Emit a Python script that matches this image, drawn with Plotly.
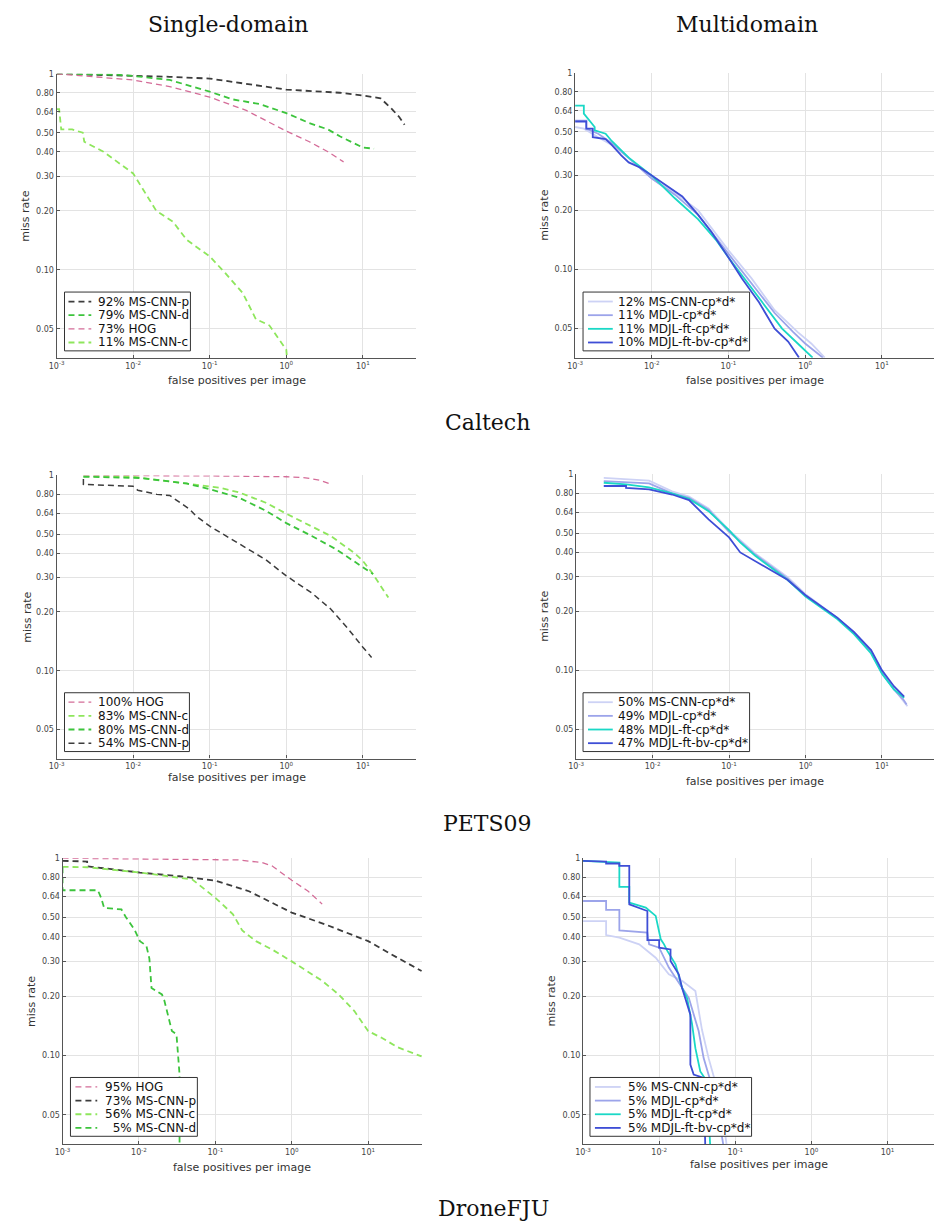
import math
import plotly.graph_objects as go

W, H = 934, 1225

# ---------------- data ----------------
# Caltech single-domain
cal_p_x = [0.001, 0.003, 0.01, 0.03, 0.1, 0.3, 1.0, 3.0, 5.0, 10.0, 17.0, 24.0, 30.0, 35.0]
cal_p_y = [1.0, 0.99, 0.98, 0.965, 0.945, 0.89, 0.83, 0.81, 0.80, 0.775, 0.75, 0.66, 0.60, 0.55]
cal_d_x = [0.001, 0.003, 0.006, 0.01, 0.03, 0.1, 0.2, 0.45, 1.0, 2.0, 3.5, 5.0, 10.0, 14.0]
cal_d_y = [1.0, 0.99, 0.99, 0.975, 0.93, 0.81, 0.74, 0.70, 0.63, 0.56, 0.52, 0.48, 0.42, 0.415]
cal_h_x = [0.001, 0.003, 0.01, 0.03, 0.1, 0.3, 1.0, 2.0, 3.5, 5.6]
cal_h_y = [1.0, 0.97, 0.93, 0.86, 0.76, 0.65, 0.51, 0.45, 0.40, 0.355]
cal_c_x = [0.001, 0.00108, 0.00115, 0.0016, 0.0022, 0.0023, 0.0041, 0.01, 0.02, 0.033, 0.05, 0.1, 0.16, 0.27, 0.4, 0.6, 1.0, 1.02]
cal_c_y = [0.66, 0.66, 0.52, 0.52, 0.50, 0.45, 0.40, 0.31, 0.20, 0.176, 0.142, 0.117, 0.096, 0.076, 0.056, 0.052, 0.039, 0.0356]

# Caltech multidomain
calm_a_x = [0.001, 0.0013, 0.002, 0.003, 0.005, 0.01, 0.02, 0.04, 0.1, 0.2, 0.4, 0.8, 1.2, 1.8]
calm_a_y = [0.53, 0.52, 0.47, 0.43, 0.37, 0.29, 0.245, 0.20, 0.125, 0.09, 0.062, 0.048, 0.042, 0.0356]
calm_b_x = [0.001, 0.0014, 0.0014, 0.002, 0.003, 0.005, 0.01, 0.02, 0.04, 0.1, 0.2, 0.4, 0.7, 1.0, 1.7]
calm_b_y = [0.57, 0.57, 0.52, 0.49, 0.44, 0.37, 0.29, 0.24, 0.19, 0.12, 0.085, 0.06, 0.048, 0.042, 0.0356]
calm_c_x = [0.001, 0.0013, 0.0013, 0.0018, 0.0018, 0.0025, 0.003, 0.005, 0.01, 0.02, 0.04, 0.07, 0.1, 0.2, 0.3, 0.5, 0.8, 1.25]
calm_c_y = [0.68, 0.68, 0.62, 0.53, 0.51, 0.49, 0.45, 0.37, 0.30, 0.23, 0.18, 0.14, 0.115, 0.08, 0.065, 0.05, 0.042, 0.0356]
calm_d_x = [0.001, 0.0014, 0.0014, 0.0017, 0.0017, 0.0025, 0.003, 0.004, 0.005, 0.007, 0.01, 0.015, 0.025, 0.04, 0.06, 0.1, 0.15, 0.25, 0.4, 0.6, 0.83]
calm_d_y = [0.565, 0.565, 0.52, 0.52, 0.47, 0.46, 0.43, 0.38, 0.35, 0.33, 0.30, 0.27, 0.235, 0.19, 0.155, 0.115, 0.09, 0.068, 0.05, 0.043, 0.0356]

# PETS09 single-domain
pet_h_x = [0.00224, 0.01, 0.1, 1.0, 1.78, 2.7, 3.6]
pet_h_y = [1.0, 1.0, 0.995, 0.985, 0.973, 0.947, 0.91]
pet_c_x = [0.00224, 0.01, 0.06, 0.134, 0.24, 0.54, 1.0, 2.15, 3.8, 7.8, 10.0, 13.0, 21.5]
pet_c_y = [0.99, 0.985, 0.90, 0.865, 0.82, 0.725, 0.637, 0.55, 0.49, 0.40, 0.365, 0.32, 0.237]
pet_d_x = [0.00224, 0.0124, 0.05, 0.1, 0.24, 0.54, 1.0, 2.15, 4.4, 10.0, 13.6]
pet_d_y = [0.985, 0.97, 0.91, 0.85, 0.77, 0.66, 0.57, 0.49, 0.42, 0.338, 0.313]
pet_p_x = [0.00224, 0.00224, 0.01, 0.0115, 0.0204, 0.03, 0.055, 0.066, 0.1, 0.24, 0.54, 1.0, 2.15, 3.8, 6.4, 10.0, 13.0]
pet_p_y = [0.96, 0.90, 0.88, 0.84, 0.80, 0.79, 0.67, 0.62, 0.55, 0.45, 0.37, 0.306, 0.25, 0.207, 0.164, 0.132, 0.117]

# PETS09 multidomain
petm_a_x = [0.0023, 0.009, 0.018, 0.03, 0.054, 0.1, 0.22, 0.58, 1.0, 2.6, 4.3, 7.2, 10.0, 14.3, 19.0, 21.5]
petm_a_y = [0.96, 0.93, 0.82, 0.77, 0.67, 0.52, 0.395, 0.30, 0.245, 0.186, 0.155, 0.124, 0.096, 0.080, 0.070, 0.0656]
petm_b_x = [0.0023, 0.009, 0.018, 0.03, 0.054, 0.1, 0.22, 0.58, 1.0, 2.6, 4.3, 7.2, 10.0, 14.3, 19.0, 21.0]
petm_b_y = [0.925, 0.90, 0.80, 0.76, 0.66, 0.51, 0.39, 0.295, 0.242, 0.185, 0.155, 0.124, 0.097, 0.080, 0.071, 0.067]
petm_c_x = [0.0023, 0.0045, 0.009, 0.018, 0.03, 0.054, 0.1, 0.14, 0.22, 0.58, 1.0, 2.6, 4.3, 7.2, 10.0, 14.3, 19.5]
petm_c_y = [0.907, 0.89, 0.86, 0.80, 0.75, 0.65, 0.52, 0.45, 0.385, 0.29, 0.238, 0.183, 0.153, 0.122, 0.096, 0.080, 0.0725]
petm_d_x = [0.0023, 0.0045, 0.0045, 0.009, 0.018, 0.03, 0.054, 0.1, 0.14, 0.22, 0.58, 1.0, 2.6, 4.3, 7.2, 10.0, 14.3, 19.5]
petm_d_y = [0.873, 0.873, 0.855, 0.84, 0.79, 0.74, 0.59, 0.477, 0.40, 0.36, 0.29, 0.242, 0.186, 0.157, 0.127, 0.100, 0.083, 0.0735]

# DroneFJU single-domain
dro_h_x = [0.001, 0.1, 0.2, 0.41, 0.55, 1.0, 1.64, 2.5]
dro_h_y = [1.0, 0.99, 0.98, 0.95, 0.915, 0.773, 0.68, 0.585]
dro_p_x = [0.001, 0.0021, 0.0021, 0.0103, 0.034, 0.1, 0.275, 0.55, 1.0, 2.7, 7.3, 10.0, 20.0, 50.0]
dro_p_y = [0.97, 0.962, 0.91, 0.846, 0.81, 0.77, 0.68, 0.596, 0.53, 0.463, 0.396, 0.38, 0.326, 0.268]
dro_c_x = [0.001, 0.0021, 0.0103, 0.034, 0.05, 0.1, 0.17, 0.225, 0.34, 0.55, 1.0, 2.5, 4.1, 6.6, 10.0, 15.0, 24.5, 50.0]
dro_c_y = [0.904, 0.90, 0.846, 0.80, 0.78, 0.63, 0.52, 0.43, 0.38, 0.345, 0.30, 0.239, 0.204, 0.168, 0.133, 0.123, 0.11, 0.099]
dro_d_x = [0.001, 0.001, 0.0029, 0.0032, 0.0035, 0.0059, 0.0068, 0.0087, 0.0103, 0.0125, 0.0137, 0.0146, 0.020, 0.0215, 0.027, 0.031, 0.034, 0.034, 0.034]
dro_d_y = [0.90, 0.688, 0.688, 0.63, 0.56, 0.55, 0.50, 0.436, 0.38, 0.36, 0.31, 0.22, 0.204, 0.19, 0.133, 0.128, 0.08, 0.05, 0.035]

# DroneFJU multidomain
drom_a_x = [0.001, 0.00201, 0.00201, 0.0030, 0.00547, 0.009, 0.0134, 0.02, 0.0299, 0.0365, 0.0446, 0.0543, 0.0664, 0.0771]
drom_a_y = [0.48, 0.48, 0.408, 0.396, 0.366, 0.313, 0.258, 0.239, 0.212, 0.135, 0.097, 0.074, 0.054, 0.035]
drom_b_x = [0.001, 0.00201, 0.00201, 0.0030, 0.0030, 0.00405, 0.0070, 0.00738, 0.01, 0.0134, 0.0164, 0.0245, 0.033, 0.0384, 0.0446, 0.0543, 0.0698]
drom_b_y = [0.607, 0.607, 0.547, 0.547, 0.431, 0.428, 0.42, 0.366, 0.352, 0.279, 0.248, 0.196, 0.133, 0.097, 0.08, 0.063, 0.035]
drom_c_x = [0.001, 0.0030, 0.0030, 0.00405, 0.00405, 0.00667, 0.009, 0.0105, 0.0116, 0.0128, 0.0164, 0.02, 0.0233, 0.027, 0.0299, 0.0347, 0.0424, 0.0468]
drom_c_y = [0.969, 0.95, 0.715, 0.715, 0.596, 0.562, 0.51, 0.388, 0.366, 0.339, 0.29, 0.22, 0.195, 0.145, 0.109, 0.083, 0.074, 0.035]
drom_d_x = [0.001, 0.00201, 0.00201, 0.0030, 0.0030, 0.00405, 0.00405, 0.0070, 0.0070, 0.01, 0.01, 0.0141, 0.0141, 0.0181, 0.02, 0.0221, 0.0257, 0.0257, 0.0284, 0.0384, 0.0403]
drom_d_y = [0.969, 0.962, 0.94, 0.94, 0.914, 0.914, 0.584, 0.54, 0.384, 0.384, 0.352, 0.345, 0.301, 0.258, 0.22, 0.196, 0.161, 0.09, 0.08, 0.077, 0.035]

# legend labels
cal_single_names = ["92% MS-CNN-p", "79% MS-CNN-d", "73% HOG", "11% MS-CNN-c"]
cal_multi_names = ["12% MS-CNN-cp*d*", "11% MDJL-cp*d*", "11% MDJL-ft-cp*d*", "10% MDJL-ft-bv-cp*d*"]
pet_single_names = ["100% HOG", "83% MS-CNN-c", "80% MS-CNN-d", "54% MS-CNN-p"]
pet_multi_names = ["50% MS-CNN-cp*d*", "49% MDJL-cp*d*", "48% MDJL-ft-cp*d*", "47% MDJL-ft-bv-cp*d*"]
dro_single_names = ["95% HOG", "73% MS-CNN-p", "56% MS-CNN-c", "\u20075% MS-CNN-d"]
dro_multi_names = ["5% MS-CNN-cp*d*", "5% MDJL-cp*d*", "5% MDJL-ft-cp*d*", "5% MDJL-ft-bv-cp*d*"]

y_tick_vals = [0.05, 0.10, 0.20, 0.30, 0.40, 0.50, 0.64, 0.80, 1.0]
y_tick_text = ["0.05", "0.10", "0.20", "0.30", "0.40", "0.50", "0.64", "0.80", "1"]
x_tick_vals = [0.001, 0.01, 0.1, 1, 10]
x_tick_text = ["10<sup>-3</sup>", "10<sup>-2</sup>", "10<sup>-1</sup>", "10<sup>0</sup>", "10<sup>1</sup>"]

x_title = "false positives per image"
y_title = "miss rate"
col_titles = ["Single-domain", "Multidomain"]
row_titles = ["Caltech", "PETS09", "DroneFJU"]

# ---------------- styles ----------------
C_P = "#3c3c3c"
C_D = "#3cc43c"
C_H = "#d46c98"
C_C = "#8ee65c"
C_A = "#cdd2f5"
C_B = "#9ca4ea"
C_CY = "#1ad8c6"
C_BL = "#3e4ed6"
DASH = "6px,4px"

# panel geometry in pixels: (left, right, top, bottom, x_range_end)
panels = [
    (49, 412, 70, 355, 1.70),
    (572, 934, 69, 355, 1.68),
    (49, 412, 473, 757, 1.70),
    (573, 934, 472, 757, 1.68),
    (55, 418, 857, 1144, 1.71),
    (580, 934, 857, 1144, 1.61),
]
# legend box: (left, top, width, sample_x0, sample_x1, text_x)
legend_geo = [
    (57, 289, 127, 61, 84, 89),
    (580, 289, 168, 585, 610, 613),
    (57, 691, 126, 61, 84, 89),
    (580, 691, 168, 585, 610, 613),
    (63, 1077, 128, 68, 90, 96),
    (587, 1077, 163, 592, 618, 623),
]
xtitle_off = [23, 23, 19, 23, 23, 20]
ytitle_x = [18, 541, 20, 541, 23, 548]

fig = go.Figure()
legend_entries = {i: [] for i in range(6)}

def add(panel, xs, ys, name, color, width, dashed):
    k = panel + 1
    dash = DASH if dashed else "solid"
    fig.add_trace(go.Scatter(
        x=xs, y=ys, mode="lines", name=name,
        line=dict(color=color, width=width, dash=dash),
        xaxis="x" if k == 1 else f"x{k}", yaxis="y" if k == 1 else f"y{k}",
        showlegend=False, hoverinfo="name",
    ))
    legend_entries[panel].append((name, color, width, dash))

# Caltech
add(0, cal_p_x, cal_p_y, cal_single_names[0], C_P, 1.8, True)
add(0, cal_d_x, cal_d_y, cal_single_names[1], C_D, 1.8, True)
add(0, cal_h_x, cal_h_y, cal_single_names[2], C_H, 1.3, True)
add(0, cal_c_x, cal_c_y, cal_single_names[3], C_C, 1.8, True)
add(1, calm_a_x, calm_a_y, cal_multi_names[0], C_A, 1.8, False)
add(1, calm_b_x, calm_b_y, cal_multi_names[1], C_B, 1.8, False)
add(1, calm_c_x, calm_c_y, cal_multi_names[2], C_CY, 1.8, False)
add(1, calm_d_x, calm_d_y, cal_multi_names[3], C_BL, 1.8, False)
# PETS09
add(2, pet_h_x, pet_h_y, pet_single_names[0], C_H, 1.3, True)
add(2, pet_c_x, pet_c_y, pet_single_names[1], C_C, 1.8, True)
add(2, pet_d_x, pet_d_y, pet_single_names[2], C_D, 1.8, True)
add(2, pet_p_x, pet_p_y, pet_single_names[3], C_P, 1.5, True)
add(3, petm_a_x, petm_a_y, pet_multi_names[0], C_A, 1.8, False)
add(3, petm_b_x, petm_b_y, pet_multi_names[1], C_B, 1.8, False)
add(3, petm_c_x, petm_c_y, pet_multi_names[2], C_CY, 1.8, False)
add(3, petm_d_x, petm_d_y, pet_multi_names[3], C_BL, 1.8, False)
# DroneFJU
add(4, dro_h_x, dro_h_y, dro_single_names[0], C_H, 1.3, True)
add(4, dro_p_x, dro_p_y, dro_single_names[1], C_P, 1.8, True)
add(4, dro_c_x, dro_c_y, dro_single_names[2], C_C, 1.8, True)
add(4, dro_d_x, dro_d_y, dro_single_names[3], C_D, 1.8, True)
add(5, drom_a_x, drom_a_y, dro_multi_names[0], C_A, 1.8, False)
add(5, drom_b_x, drom_b_y, dro_multi_names[1], C_B, 1.8, False)
add(5, drom_c_x, drom_c_y, dro_multi_names[2], C_CY, 1.8, False)
add(5, drom_d_x, drom_d_y, dro_multi_names[3], C_BL, 1.8, False)

def px(x):
    return x / W

def py(y):
    return 1 - y / H

layout = dict(
    width=W, height=H, margin=dict(l=0, r=0, t=0, b=0),
    paper_bgcolor="white", plot_bgcolor="white",
    font=dict(family="DejaVu Sans", color="#333333"),
    showlegend=False,
)
tickfont = dict(family="DejaVu Sans", size=8, color="#444444")
labelfont = dict(family="DejaVu Sans", size=11, color="#333333")
legfont = dict(family="DejaVu Sans", size=12, color="#111111")
shapes = []
ann = []
for i, (l, r, t, b, xe) in enumerate(panels):
    k = i + 1
    xs = "" if k == 1 else str(k)
    layout[f"xaxis{xs}"] = dict(
        type="log", range=[-3, xe], domain=[px(l), px(r)], anchor=f"y{xs}",
        tickvals=x_tick_vals, ticktext=x_tick_text, tickfont=tickfont,
        showgrid=True, gridcolor="#e3e3e3", gridwidth=1,
        showline=True, linecolor="#555555", linewidth=1.2, mirror=False,
        ticks="inside", ticklen=3, tickcolor="#555555", zeroline=False,
    )
    layout[f"yaxis{xs}"] = dict(
        type="log", range=[math.log10(0.0355), 0], domain=[py(b), py(t)], anchor=f"x{xs}",
        tickvals=y_tick_vals, ticktext=y_tick_text, tickfont=tickfont,
        showgrid=True, gridcolor="#e3e3e3", gridwidth=1,
        showline=True, linecolor="#555555", linewidth=1.2, mirror=False,
        ticks="inside", ticklen=3, tickcolor="#555555", zeroline=False,
    )
    # axis titles
    ann.append(dict(text=x_title, x=px((l + r) / 2), y=py(b + xtitle_off[i]), xref="paper", yref="paper",
                    showarrow=False, font=labelfont, xanchor="center", yanchor="middle"))
    ann.append(dict(text=y_title, x=px(ytitle_x[i]), y=py((t + b) / 2), xref="paper", yref="paper",
                    showarrow=False, font=labelfont, xanchor="center", yanchor="middle", textangle=-90))
    # legend
    lx, ly, lw, sx0, sx1, tx = legend_geo[i]
    lh = 59
    shapes.append(dict(type="rect", xref="paper", yref="paper", x0=px(lx), x1=px(lx + lw),
                       y0=py(ly + lh), y1=py(ly), fillcolor="white",
                       line=dict(color="#333333", width=1), layer="above"))
    for j, (name, color, width, dash) in enumerate(legend_entries[i]):
        yc = ly + 9.5 + 13.7 * j
        shapes.append(dict(type="line", xref="paper", yref="paper", x0=px(sx0), x1=px(sx1),
                           y0=py(yc), y1=py(yc), line=dict(color=color, width=width, dash=dash), layer="above"))
        ann.append(dict(text=name, x=px(tx), y=py(yc), xref="paper", yref="paper", showarrow=False,
                        font=legfont, xanchor="left", yanchor="middle"))

serif = dict(family="DejaVu Serif", size=22, color="#111111")
ann.append(dict(text=col_titles[0], x=px(222), y=py(21), xref="paper", yref="paper", showarrow=False, font=serif, xanchor="center", yanchor="middle"))
ann.append(dict(text=col_titles[1], x=px(745), y=py(21), xref="paper", yref="paper", showarrow=False, font=serif, xanchor="center", yanchor="middle"))
for name, xx, yy in zip(row_titles, [484, 484, 490], [420, 822, 1208]):
    ann.append(dict(text=name, x=px(xx), y=py(yy), xref="paper", yref="paper", showarrow=False, font=serif, xanchor="center", yanchor="middle"))
layout["annotations"] = ann
layout["shapes"] = shapes

fig.update_layout(**layout)
fig.write_html(
    "out.html",
    config={"displayModeBar": False},
    post_script="document.body.style.margin='0px';document.body.style.overflow='hidden';",
)
